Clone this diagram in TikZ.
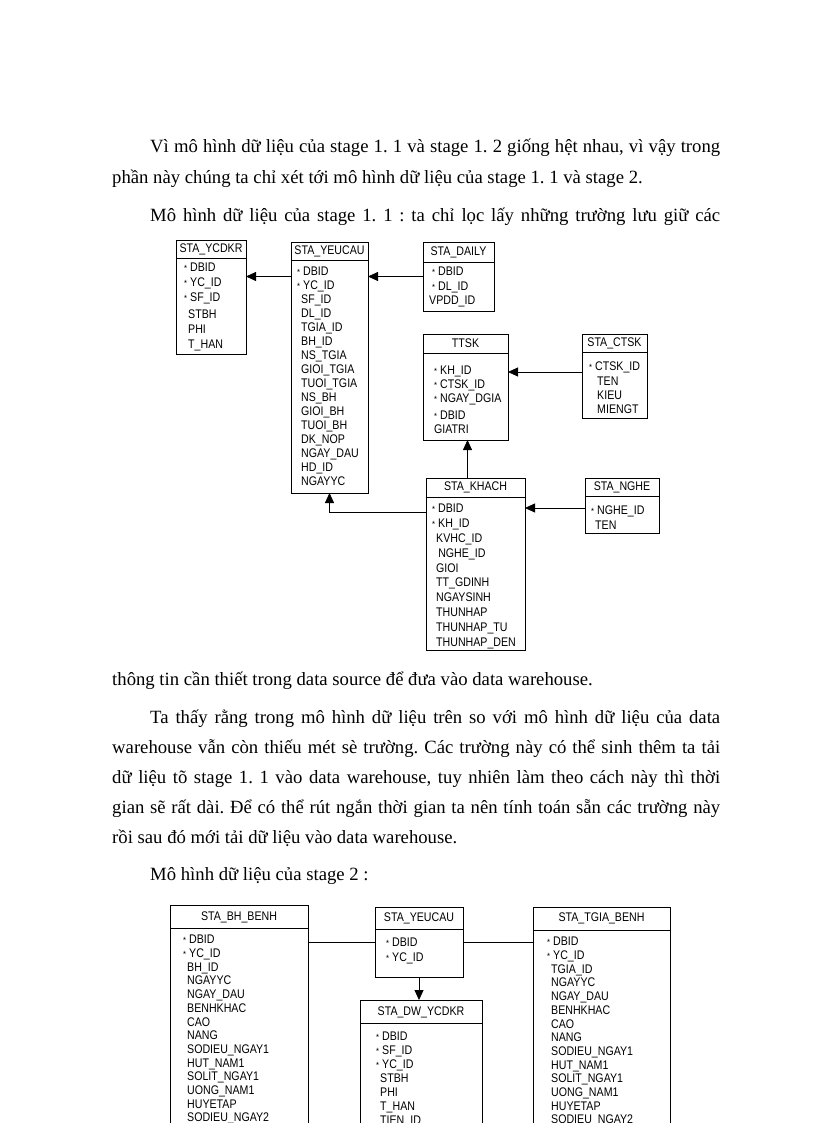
\documentclass[tikz,border=0pt]{standalone}
\usepackage{fontspec}
\setmainfont{Liberation Serif}
\newfontfamily\erfont[FakeStretch=0.85]{Liberation Sans}
\usetikzlibrary{arrows.meta}
\frenchspacing

% key field mark and indent of the other fields
\newcommand{\pk}{\makebox[6pt][l]{\fontsize{9}{9}\selectfont *}}
\newcommand{\nk}{\makebox[4pt]{}}

\tikzset{
  tbl/.style={draw, line width=0.8pt, inner sep=0pt, outer sep=0pt, anchor=north west},
  ttl/.style={font=\erfont\fontsize{12.5}{14}\selectfont, inner sep=0pt},
  fld/.style={font=\erfont\fontsize{12.5}{#1}\selectfont, align=left, inner sep=0pt, anchor=north west},
  fld/.default=14.3,
  fk/.style={-{Triangle[length=10pt,width=9pt]}, line width=0.8pt},
  rel/.style={line width=0.8pt},
  txt/.style={font=\fontsize{18.7}{22}\selectfont, inner sep=0pt, anchor=base west},
}

\begin{document}
\begin{tikzpicture}[x=1pt,y=-1pt]
 \useasboundingbox (0,0) rectangle (816,1123);
 \clip (0,0) rectangle (816,1123);
 \fill[white] (0,0) rectangle (816,1123);

 % text above the first model
 \node[txt] (l1) at (150,153) {\makebox[570pt][s]{Vì mô hình dữ liệu  của stage 1. 1 và stage 1. 2 giống hệt nhau, vì vậy trong}};
 \node[txt] (l2) at (112,184) {phần này chúng ta chỉ xét tới mô hình dữ liệu  của stage 1. 1 và stage 2.};
 \node[txt] (l3) at (150,222) {\makebox[570pt][s]{Mô hình dữ liệu  của stage 1. 1 : ta chỉ lọc lấy những trường lưu giữ các}};

 % stage 1.1
 \node[tbl, minimum width=70, minimum height=114] (ycdkr) at (176,240) {};
 \node[ttl] at ([yshift=-9pt]ycdkr.north) {STA\_YCDKR};
 \draw[rel] ([yshift=-18pt]ycdkr.north west) -- ([yshift=-18pt]ycdkr.north east);
 \node[fld=15] (ycdkr-f) at ([xshift=8pt,yshift=-23pt]ycdkr.north west)
   {\pk DBID\\ \pk YC\_ID\\ \pk SF\_ID\\[2pt] \nk STBH\\ \nk PHI\\ \nk T\_HAN};

 \node[tbl, minimum width=77, minimum height=251] (yeucau) at (291,242) {};
 \node[ttl] at ([yshift=-9pt]yeucau.north) {STA\_YEUCAU};
 \draw[rel] ([yshift=-18pt]yeucau.north west) -- ([yshift=-18pt]yeucau.north east);
 \node[fld=14] (yeucau-f) at ([xshift=6pt,yshift=-25pt]yeucau.north west)
   {\pk DBID\\ \pk YC\_ID\\ \nk SF\_ID\\ \nk DL\_ID\\ \nk TGIA\_ID\\ \nk BH\_ID\\ \nk NS\_TGIA\\ \nk GIOI\_TGIA\\
    \nk TUOI\_TGIA\\ \nk NS\_BH\\ \nk GIOI\_BH\\ \nk TUOI\_BH\\ \nk DK\_NOP\\ \nk NGAY\_DAU\\ \nk HD\_ID\\ \nk NGAYYC};

 \node[tbl, minimum width=71, minimum height=69] (daily) at (423,242) {};
 \node[ttl] at ([yshift=-10pt]daily.north) {STA\_DAILY};
 \draw[rel] ([yshift=-20pt]daily.north west) -- ([yshift=-20pt]daily.north east);
 \node[fld] (daily-f) at ([xshift=9pt,yshift=-25pt]daily.north west)
   {\pk DBID\\ \pk DL\_ID\\ \hspace*{-3pt}VPDD\_ID};

 \node[tbl, minimum width=85, minimum height=106] (ttsk) at (423,334) {};
 \node[ttl] at ([yshift=-9pt]ttsk.north) {TTSK};
 \draw[rel] ([yshift=-19pt]ttsk.north west) -- ([yshift=-19pt]ttsk.north east);
 \node[fld=13.8] (ttsk-f) at ([xshift=11pt,yshift=-32pt]ttsk.north west)
   {\pk KH\_ID\\ \pk CTSK\_ID\\ \pk NGAY\_DGIA\\[3pt] \pk DBID\\ GIATRI};

 \node[tbl, minimum width=65, minimum height=84] (ctsk) at (582,334) {};
 \node[ttl] at ([yshift=-9pt]ctsk.north) {STA\_CTSK};
 \draw[rel] ([yshift=-18pt]ctsk.north west) -- ([yshift=-18pt]ctsk.north east);
 \node[fld] (ctsk-f) at ([xshift=7pt,yshift=-28pt]ctsk.north west)
   {\pk CTSK\_ID\\ \nk\nk TEN\\ \nk\nk KIEU\\ \nk\nk MIENGT};

 \node[tbl, minimum width=99, minimum height=172] (khach) at (426,478) {};
 \node[ttl] at ([yshift=-9pt]khach.north) {STA\_KHACH};
 \draw[rel] ([yshift=-19pt]khach.north west) -- ([yshift=-19pt]khach.north east);
 \node[fld=14.8] (khach-f) at ([xshift=6pt,yshift=-26pt]khach.north west)
   {\pk DBID\\ \pk KH\_ID\\ \nk KVHC\_ID\\ \nk\,NGHE\_ID\\ \nk GIOI\\ \nk TT\_GDINH\\ \nk NGAYSINH\\
    \nk THUNHAP\\ \nk THUNHAP\_TU\\ \nk THUNHAP\_DEN};

 \node[tbl, minimum width=74, minimum height=55] (nghe) at (585,478) {};
 \node[ttl] at ([yshift=-9pt]nghe.north) {STA\_NGHE};
 \draw[rel] ([yshift=-18pt]nghe.north west) -- ([yshift=-18pt]nghe.north east);
 \node[fld] (nghe-f) at ([xshift=6pt,yshift=-28pt]nghe.north west)
   {\pk NGHE\_ID\\ \nk TEN};

 \draw[fk] (yeucau.west |- daily.west) -- (ycdkr.east |- daily.west);
 \draw[fk] (daily.west) -- (yeucau.east |- daily.west);
 \draw[fk] ([yshift=-38pt]ctsk.north west) -- ([yshift=-38pt]ttsk.north east);
 \draw[fk] ([xshift=-8pt]khach.north) -- ([xshift=2pt]ttsk.south);
 \draw[fk] ([yshift=-30pt]nghe.north west) -- ([yshift=-30pt]khach.north east);
 \draw[fk] ([yshift=-34pt]khach.north west) -| (yeucau.south);

 % text between the two models
 \node[txt] (l4) at (112,685) {thông tin cần thiết trong data source để đưa vào data warehouse.};
 \node[txt] (l5) at (150,723) {\makebox[570pt][s]{Ta thấy rằng trong mô hình dữ liệu  trên so với  mô hình dữ liệu  của data}};
 \node[txt] (l6) at (112,753) {\makebox[608pt][s]{warehouse vẫn còn thiếu  mét sè trường. Các trường này có thể sinh thêm ta tải}};
 \node[txt] (l7) at (112,783) {\makebox[608pt][s]{dữ liệu  tõ stage 1. 1 vào data warehouse, tuy nhiên làm theo cách này thì thời}};
 \node[txt] (l8) at (112,813) {\makebox[608pt][s]{gian  sẽ rất dài. Để có thể rút ngắn thời  gian  ta nên tính toán sẵn các trường này}};
 \node[txt] (l9) at (112,843) {rồi sau đó mới tải dữ liệu  vào data warehouse.};
 \node[txt] (l10) at (150,880) {Mô hình dữ liệu  của stage 2 :};

 % stage 2
 \node[tbl, minimum width=138, minimum height=240] (bhbenh) at (170,905) {};
 \node[ttl] at ([yshift=-12pt]bhbenh.north) {STA\_BH\_BENH};
 \draw[rel] ([yshift=-23pt]bhbenh.north west) -- ([yshift=-23pt]bhbenh.north east);
 \node[fld=13.7] (bhbenh-f) at ([xshift=13pt,yshift=-30pt]bhbenh.north west)
   {\pk DBID\\ \pk YC\_ID\\ \nk BH\_ID\\ \nk NGAYYC\\ \nk NGAY\_DAU\\ \nk BENHKHAC\\ \nk CAO\\ \nk NANG\\
    \nk SODIEU\_NGAY1\\ \nk HUT\_NAM1\\ \nk SOLIT\_NGAY1\\ \nk UONG\_NAM1\\ \nk HUYETAP\\ \nk SODIEU\_NGAY2};

 \node[tbl, minimum width=88, minimum height=70] (yc2) at (375,907) {};
 \node[ttl] at ([yshift=-11pt]yc2.north) {STA\_YEUCAU};
 \draw[rel] ([yshift=-22pt]yc2.north west) -- ([yshift=-22pt]yc2.north east);
 \node[fld] (yc2-f) at ([xshift=11pt,yshift=-31pt]yc2.north west)
   {\pk DBID\\ \pk YC\_ID};

 \node[tbl, minimum width=137, minimum height=240] (tgbenh) at (533,907) {};
 \node[ttl] at ([yshift=-11pt]tgbenh.north) {STA\_TGIA\_BENH};
 \draw[rel] ([yshift=-23pt]tgbenh.north west) -- ([yshift=-23pt]tgbenh.north east);
 \node[fld=13.7] (tgbenh-f) at ([xshift=14pt,yshift=-30pt]tgbenh.north west)
   {\pk DBID\\ \pk YC\_ID\\ \nk TGIA\_ID\\ \nk NGAYYC\\ \nk NGAY\_DAU\\ \nk BENHKHAC\\ \nk CAO\\ \nk NANG\\
    \nk SODIEU\_NGAY1\\ \nk HUT\_NAM1\\ \nk SOLIT\_NGAY1\\ \nk UONG\_NAM1\\ \nk HUYETAP\\ \nk SODIEU\_NGAY2};

 \node[tbl, minimum width=122, minimum height=150] (dwycdkr) at (360,1000) {};
 \node[ttl] at ([yshift=-12pt]dwycdkr.north) {STA\_DW\_YCDKR};
 \draw[rel] ([yshift=-23pt]dwycdkr.north west) -- ([yshift=-23pt]dwycdkr.north east);
 \node[fld=14] (dwycdkr-f) at ([xshift=16pt,yshift=-32pt]dwycdkr.north west)
   {\pk DBID\\ \pk SF\_ID\\ \pk YC\_ID\\ \nk STBH\\ \nk PHI\\ \nk T\_HAN\\ \nk TIEN\_ID};

 \draw[rel] (yc2.west) -- (bhbenh.east |- yc2.west);
 \draw[rel] (yc2.east) -- (tgbenh.west |- yc2.east);
 \draw[fk] (yc2.south) -- (yc2.south |- dwycdkr.north);
\end{tikzpicture}
\end{document}
